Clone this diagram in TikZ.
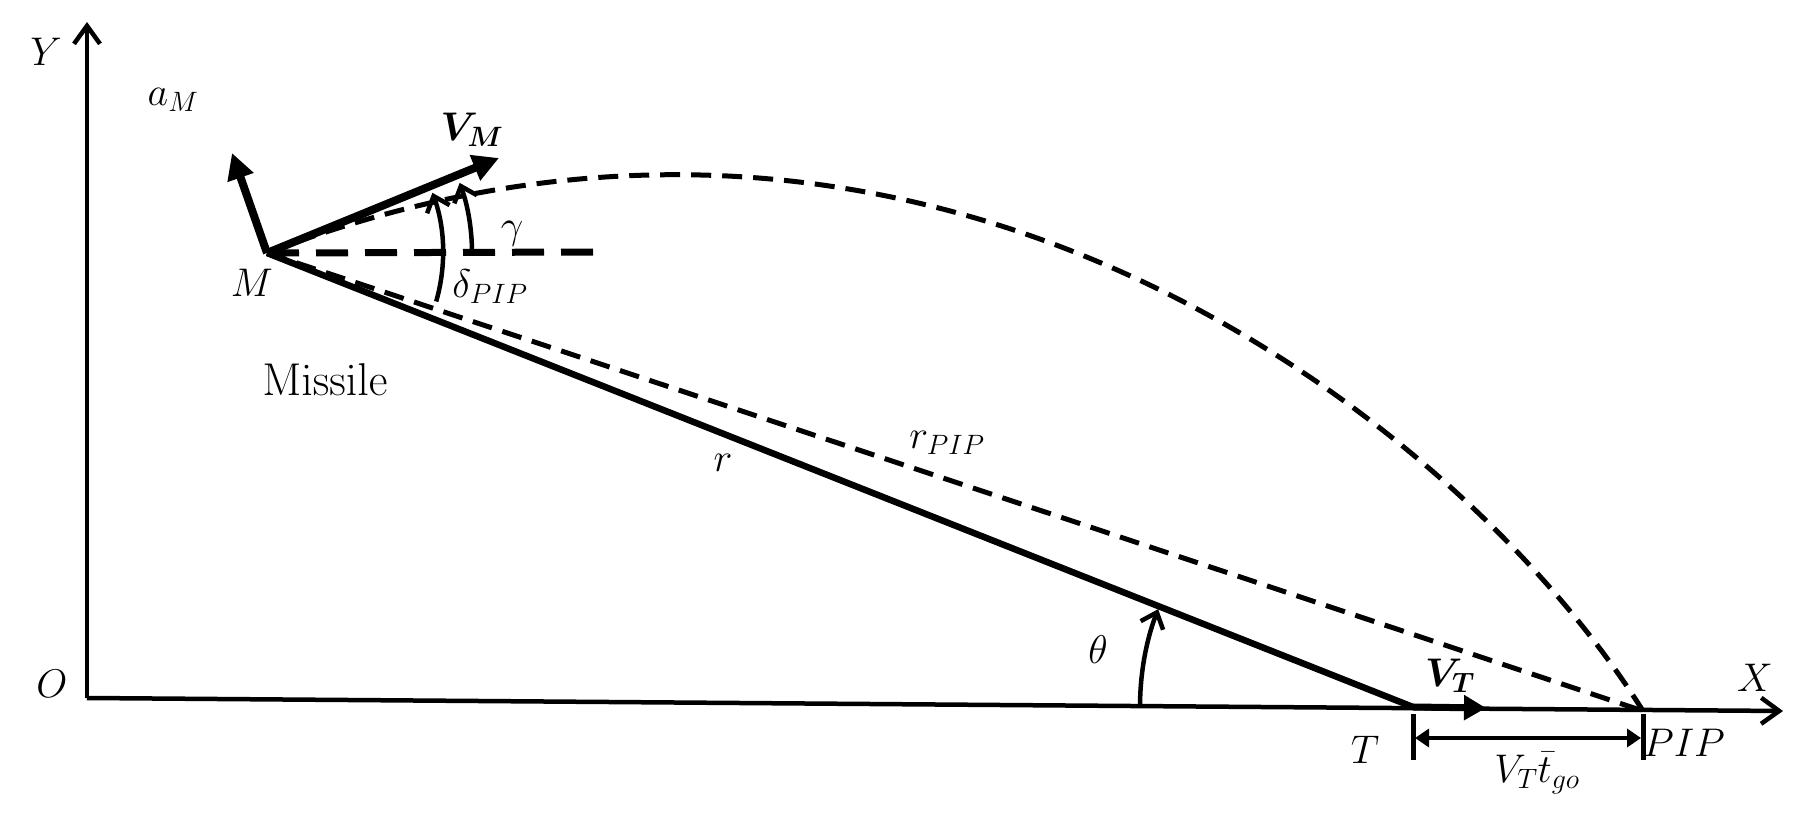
\RequirePackage{fix-cm}
\documentclass[tikz,border=0pt]{standalone}
\usepackage{amsmath,bm}
\usetikzlibrary{arrows.meta}
\begin{document}
\begin{tikzpicture}[x=1pt,y=1pt,
  lbl/.style={inner sep=0pt, font=\fontsize{40}{48}\selectfont},
  txt/.style={inner sep=0pt, font=\fontencoding{OT1}\fontfamily{cmr}\fontseries{m}\fontshape{n}\fontsize{46}{54}\selectfont},
  axisline/.style={line width=4.5pt, -{Straight Barb[length=18pt,width=26pt]}},
  vec/.style={line width=8pt, -{Triangle[length=26pt,width=26pt]}},
  vecT/.style={line width=7pt, -{Triangle[length=22pt,width=24pt]}},
  rline/.style={line width=6.5pt},
  thickdash/.style={line width=7pt, dash pattern=on 32pt off 17pt},
  thindash/.style={line width=5pt, dash pattern=on 20pt off 11pt},
  arcarrow/.style={line width=4.5pt, -{Straight Barb[length=14pt,width=24pt]}},
  tickmark/.style={line width=5pt},
  dimline/.style={line width=4pt, {Triangle[length=14pt,width=18pt]}-{Triangle[length=14pt,width=18pt]}}
]
\useasboundingbox (0,0) rectangle (1809,822);
% points
\coordinate (O) at (87,124);
\coordinate (Ytip) at (87,800);
\coordinate (Xtip) at (1783,111);
\coordinate (M) at (267,569);
\coordinate (aM) at (232,669);
\coordinate (VM) at (499,664);
\coordinate (H) at (600,570);
\coordinate (T) at (1413,115);
\coordinate (PIP) at (1643,111);
\coordinate (VT) at (1486,114);
\coordinate (C1) at (939,827);
\coordinate (C2) at (1470,388);
\coordinate (Tt1) at (1413,108);
\coordinate (Tt2) at (1413,62);
\coordinate (Pt1) at (1643,108);
\coordinate (Pt2) at (1643,62);
\coordinate (D1) at (1415,84);
\coordinate (D2) at (1641,84);
% axes
\draw[axisline] (O) -- (Ytip);
\draw[axisline] (O) -- (Xtip);
% lines
\draw[thickdash] (M) -- (H);
\draw[thindash] (M) -- (PIP);
\draw[thindash] (M) .. controls (C1) and (C2) .. (PIP);
\draw[rline] (M) -- (T);
% vectors
\draw[vec] (M) -- (VM);
\draw[vec] (M) -- (aM);
\draw[vecT] (T) -- (VT);
% ticks and dimension
\draw[tickmark] (Tt1) -- (Tt2);
\draw[tickmark] (Pt1) -- (Pt2);
\draw[dimline] (D1) -- (D2);
% angle arcs
\draw[arcarrow] ([shift={(0:205)}]M) arc[start angle=0, end angle=20, radius=205];
\draw[arcarrow] ([shift={(-16:176)}]M) arc[start angle=-16, end angle=20, radius=176];
\draw[arcarrow] ([shift={(180:273)}]T) arc[start angle=180, end angle=159, radius=273];
% labels
\node[lbl] (Ylbl) at (46,770) {$Y$};
\node[lbl] (Olbl) at (52,138) {$O$};
\node[lbl] (aMlbl) at (173,722) {$a_M$};
\node[lbl] (VMlbl) at (472,692) {$\bm{V}_{\bm{M}}$};
\node[lbl] (glbl) at (512,588) {$\gamma$};
\node[lbl] (Mlbl) at (252,539) {$M$};
\node[lbl] (dlbl) at (490,535) {$\delta_{PIP}$};
\node[txt] (miss) at (325,442) {Missile};
\node[lbl] (rlbl) at (723,359) {$r$};
\node[lbl] (rPlbl) at (947,379) {$r_{PIP}$};
\node[lbl] (thlbl) at (1098,172) {$\theta$};
\node[lbl] (VTlbl) at (1450,146) {$\bm{V}_{\bm{T}}$};
\node[lbl] (Tlbl) at (1365,72) {$T$};
\node[lbl] (PIPlbl) at (1684,79) {$PIP$};
\node[lbl] (dimlbl) at (1537,49) {$V_T\bar{t}_{go}$};
\node[lbl] (Xlbl) at (1755,144) {$X$};
\end{tikzpicture}
\end{document}
